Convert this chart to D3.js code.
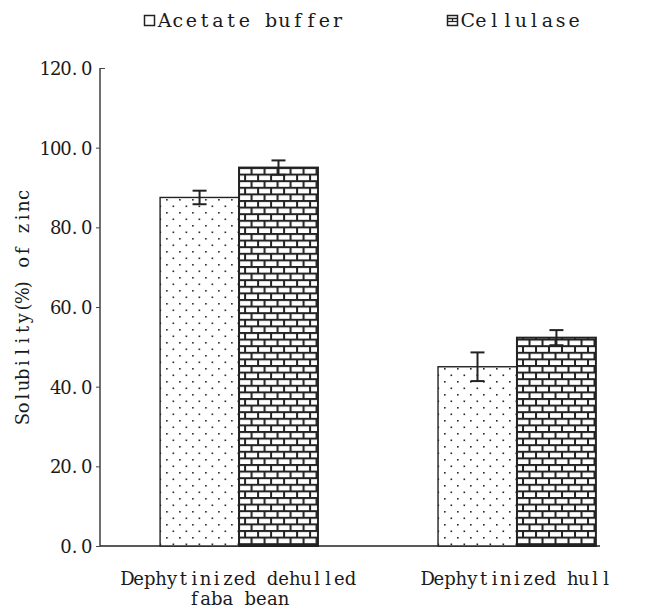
<!DOCTYPE html>
<html>
<head>
<meta charset="utf-8">
<script src="https://cdn.jsdelivr.net/npm/d3@7"></script>
<style>
  body { margin: 0; background: #fff; }
  text { font-family: "DejaVu Serif", "Liberation Serif", serif; fill: #1a1a1a; }
</style>
</head>
<body>
<svg id="chart" width="650" height="611"></svg>
<script>
  var categories = [["Dephytinized dehulled", "faba bean"], ["Dephytinized hull"]];
  var seriesNames = ["Acetate buffer", "Cellulase"];
  var acetateValues = [87.5, 45.0];
  var acetateErrors = [1.7, 3.6];
  var cellulaseValues = [95.0, 52.3];
  var cellulaseErrors = [1.8, 1.9];
  var yTicks = [0, 20, 40, 60, 80, 100, 120];

  var svg = d3.select("#chart");

  // draws a string in fixed-width cells (the source uses a monospaced Song font)
  function mono(g, str, x, yy, cell, size, anchor) {
    var total = str.length * cell;
    var x0 = anchor === "middle" ? x - total / 2 : anchor === "end" ? x - total : x;
    var t = g.append("text").attr("y", yy).style("font-size", size + "px");
    str.split("").forEach(function(ch, i) {
      if (ch === " ") return;
      var isDot = ch === ".";
      t.append("tspan")
        .attr("x", isDot ? x0 + i * cell + 0.5 : x0 + i * cell + cell / 2)
        .attr("text-anchor", isDot ? "start" : "middle")
        .text(ch);
    });
    return t;
  }

  // patterns
  var defs = svg.append("defs");
  var dots = defs.append("pattern").attr("id", "dots")
    .attr("patternUnits", "userSpaceOnUse").attr("width", 13).attr("height", 13)
    .attr("x", 162).attr("y", 4);
  dots.append("rect").attr("width", 13).attr("height", 13).attr("fill", "#fff");
  dots.append("rect").attr("x", 0).attr("y", 0).attr("width", 1.6).attr("height", 1.6).attr("fill", "#222");
  dots.append("rect").attr("x", 6.5).attr("y", 6.5).attr("width", 1.6).attr("height", 1.6).attr("fill", "#222");

  var brick = defs.append("pattern").attr("id", "brick")
    .attr("patternUnits", "userSpaceOnUse").attr("width", 13).attr("height", 13.2)
    .attr("x", 240).attr("y", 2);
  brick.append("rect").attr("width", 13).attr("height", 13.2).attr("fill", "#fff");
  brick.append("rect").attr("x", 0).attr("y", 0).attr("width", 13).attr("height", 2).attr("fill", "#222");
  brick.append("rect").attr("x", 0).attr("y", 6.6).attr("width", 13).attr("height", 2).attr("fill", "#222");
  brick.append("rect").attr("x", 0).attr("y", 0).attr("width", 2).attr("height", 6.6).attr("fill", "#222");
  brick.append("rect").attr("x", 6.5).attr("y", 6.6).attr("width", 2).attr("height", 6.6).attr("fill", "#222");

  var fills = ["url(#dots)", "url(#brick)"];

  var y = d3.scaleLinear().domain([0, 120]).range([546, 68]);

  var x0 = d3.scaleBand().domain(d3.range(categories.length))
    .range([100, 600]).paddingInner(0.432).paddingOuter(0.1155).align(0.936);
  var x1 = d3.scaleBand().domain(d3.range(seriesNames.length))
    .range([0, x0.bandwidth()]);

  var rows = categories.map(function(c, i) {
    return [
      { s: 0, v: acetateValues[i], e: acetateErrors[i] },
      { s: 1, v: cellulaseValues[i], e: cellulaseErrors[i] }
    ];
  });

  // y axis
  var yAxis = d3.axisLeft(y).tickValues(yTicks).tickSize(4).tickFormat("");
  var gy = svg.append("g").attr("transform", "translate(100,0)").call(yAxis);
  gy.select(".domain").attr("stroke", "#222").attr("stroke-width", 1.3).attr("d", "M0,68V546");
  gy.selectAll(".tick line").attr("stroke", "#444")
    .attr("x2", function(d) { return d === 120 ? 5 : -4; });
  gy.selectAll(".tick").each(function(d) {
    mono(d3.select(this), d3.format(".1f")(d), -8, 6.5, 10.4, 18, "end");
  });

  // x axis line
  svg.append("line").attr("x1", 100).attr("x2", 600).attr("y1", y(0)).attr("y2", y(0))
    .attr("stroke", "#222").attr("stroke-width", 1.5);

  // bars
  var groups = svg.selectAll("g.grp").data(rows).enter().append("g")
    .attr("class", "grp")
    .attr("transform", function(d, i) { return "translate(" + x0(i) + ",0)"; });

  groups.selectAll("rect.bar").data(function(d) { return d; }).enter().append("rect")
    .attr("class", "bar")
    .attr("x", function(d) { return x1(d.s); })
    .attr("y", function(d) { return y(d.v); })
    .attr("width", x1.bandwidth())
    .attr("height", function(d) { return y(0) - y(d.v); })
    .attr("fill", function(d) { return fills[d.s]; })
    .attr("stroke", "#222")
    .attr("stroke-width", function(d) { return d.s === 1 ? 2 : 1.4; });

  // error bars
  var err = groups.selectAll("g.err").data(function(d) { return d; }).enter().append("g")
    .attr("class", "err")
    .attr("stroke", "#222").attr("stroke-width", 2);
  err.append("line")
    .attr("x1", function(d) { return x1(d.s) + x1.bandwidth() / 2; })
    .attr("x2", function(d) { return x1(d.s) + x1.bandwidth() / 2; })
    .attr("y1", function(d) { return y(d.v + d.e); })
    .attr("y2", function(d) { return y(d.v - d.e); });
  err.append("line")
    .attr("x1", function(d) { return x1(d.s) + x1.bandwidth() / 2 - 7; })
    .attr("x2", function(d) { return x1(d.s) + x1.bandwidth() / 2 + 7; })
    .attr("y1", function(d) { return y(d.v + d.e); })
    .attr("y2", function(d) { return y(d.v + d.e); });
  err.append("line")
    .attr("x1", function(d) { return x1(d.s) + x1.bandwidth() / 2 - 7; })
    .attr("x2", function(d) { return x1(d.s) + x1.bandwidth() / 2 + 7; })
    .attr("y1", function(d) { return y(d.v - d.e); })
    .attr("y2", function(d) { return y(d.v - d.e); });

  // category labels
  categories.forEach(function(lines, i) {
    var cx = x0(i) + x0.bandwidth() / 2;
    lines.forEach(function(line, k) {
      mono(svg, line, cx, 585 + k * 20, 11.15, 18, "middle");
    });
  });

  // y axis title
  var yt = svg.append("g").attr("transform", "translate(29,307) rotate(-90)");
  mono(yt, "Solubility(%) of zinc", 0, 0, 11.2, 18, "middle");

  // legend
  var legX = [144, 447];
  var leg = svg.selectAll("g.leg").data(seriesNames).enter().append("g")
    .attr("class", "leg")
    .attr("transform", function(d, i) { return "translate(" + legX[i] + ",15)"; });
  leg.append("rect").attr("x", 0.5).attr("y", 0.5).attr("width", 10).attr("height", 10)
    .attr("fill", "#fff").attr("stroke", "#222").attr("stroke-width", 1.5);
  leg.filter(function(d, i) { return i === 1; }).each(function() {
    var g = d3.select(this);
    g.append("line").attr("x1", 0.5).attr("x2", 10.5).attr("y1", 3.5).attr("y2", 3.5).attr("stroke", "#222").attr("stroke-width", 1.5);
    g.append("line").attr("x1", 0.5).attr("x2", 10.5).attr("y1", 6.5).attr("y2", 6.5).attr("stroke", "#222").attr("stroke-width", 1.2);
    g.append("line").attr("x1", 5.5).attr("x2", 5.5).attr("y1", 3.5).attr("y2", 6.5).attr("stroke", "#222").attr("stroke-width", 1.2);
  });
  leg.each(function(d) {
    mono(d3.select(this), d, 14, 12, 13.3, 19, "start");
  });
</script>
</body>
</html>
